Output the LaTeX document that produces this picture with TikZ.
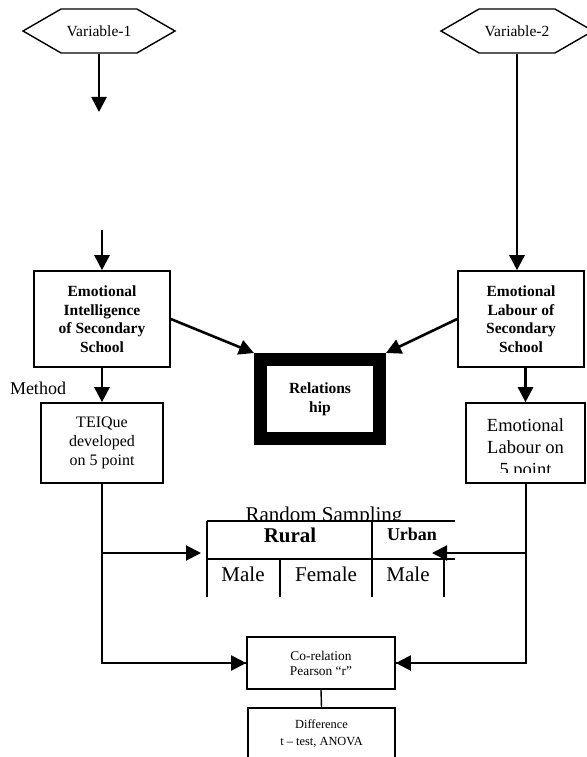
\documentclass[tikz,border=0pt]{standalone}
\usepackage{fontspec}
\setmainfont{Liberation Serif}
\usetikzlibrary{arrows.meta,shapes.symbols}
\tikzset{
	hexbox/.style={draw, line width=1.4pt, signal, signal to=west and east, signal pointer angle=60, minimum width=152pt, minimum height=44pt, inner sep=0pt, font=\fontsize{15.5}{18}\selectfont},
	boldbox/.style={draw, line width=1.6pt, align=center, inner sep=0pt, font=\bfseries\fontsize{15.5}{18.6}\selectfont},
	plainbox/.style={draw, line width=1.6pt, align=center, inner sep=0pt},
	arr/.style={line width=2.6pt, -{Triangle[length=15pt, width=15pt]}},
	conn/.style={line width=2pt},
	tabline/.style={line width=2pt},
	bigtext/.style={font=\fontsize{21}{24}\selectfont, anchor=base},
}

\begin{document}
\begin{tikzpicture}[x=1pt, y=-1pt]
		%%%%% START %%%%%
		\useasboundingbox (0, 0) rectangle (586, 757);
		
		\node[hexbox] (var1) at (99, 31) {Variable-1};
		\node[hexbox] (var2) at (517, 31) {Variable-2};
		\coordinate (v1end) at (99, 112);
		\coordinate (eitop) at (102, 230);
		
		\node[boldbox, minimum width=136pt, minimum height=96pt] (ei) at (102, 319) {Emotional\\Intelligence\\of Secondary\\School};
		\node[boldbox, minimum width=126pt, minimum height=96pt] (lab) at (521, 319) {Emotional\\Labour of\\Secondary\\School};
		\node[boldbox, line width=13pt, minimum width=119pt, minimum height=79pt] (rel) at (320, 399) {Relations\\hip};
		
		\draw[arr] (var1.south) -- (v1end);
		\draw[arr] (eitop) -- (ei.north);
		\draw[arr] (var2.south) -- (var2.south |- lab.north);
		\draw[arr] (ei.east) -- (rel.north west);
		\draw[arr] (lab.west) -- (rel.north east);
		
		\node[anchor=base, font=\fontsize{18}{21}\selectfont] (method) at (38, 394) {Method};
		\node[plainbox, minimum width=122pt, minimum height=80pt, font=\fontsize{16}{18.7}\selectfont] (teique) at (102, 443) {TEIQue\\developed\\on 5 point};
		\node[plainbox, minimum width=119pt, minimum height=80pt] (lab5) at (525.5, 443) {};
		\begin{scope}
			\clip (466, 403) rectangle (586, 472);
			\node[align=center, font=\fontsize{18.5}{21.7}\selectfont] (lab5txt) at (525.5, 449) {Emotional\\Labour on\\5 point};
		\end{scope}
		\draw[arr] (ei.south) -- (teique.north);
		\draw[arr] (lab.south -| lab5.north) -- (lab5.north);
		
		% sampling table
		\begin{scope}
			\clip (150, 480) rectangle (500, 520);
			\node[bigtext] (rsamp) at (324, 521) {Random Sampling};
		\end{scope}
		\draw[tabline] (207, 521) -- (455, 521);
		\draw[tabline] (207, 559) -- (455, 559);
		\draw[tabline] (207, 521) -- (207, 597);
		\draw[tabline] (280, 559) -- (280, 597);
		\draw[tabline] (372, 521) -- (372, 597);
		\draw[tabline] (444, 559) -- (444, 597);
		\node[bigtext, font=\bfseries\fontsize{21}{24}\selectfont] (rural) at (290, 542) {Rural};
		\node[anchor=base, font=\bfseries\fontsize{18}{21}\selectfont] (urban) at (412, 540) {Urban};
		\node[bigtext] (male1) at (243, 581) {Male};
		\node[bigtext] (female) at (326, 581) {Female};
		\node[bigtext] (male2) at (408, 581) {Male};
		\coordinate (tabL) at (201, 553);
		\coordinate (tabR) at (432, 553);
		
		\node[plainbox, minimum width=148pt, minimum height=52pt, font=\fontsize{13.4}{15}\selectfont] (corel) at (321, 663) {Co-relation\\Pearson “r”};
		\node[plainbox, minimum width=147pt, minimum height=52pt, font=\fontsize{12.4}{17}\selectfont] (diff) at (321.5, 734) {Difference\\t – test, ANOVA};
		
		\draw[conn] (teique.south) |- (corel.west);
		\draw[conn] (lab5.south) |- (corel.east);
		\draw[arr, line width=2pt] (teique.south |- corel.west) -- (corel.west);
		\draw[arr, line width=2pt] (lab5.south |- corel.east) -- (corel.east);
		\draw[arr, line width=2pt] (teique.south |- tabL) -- (tabL);
		\draw[arr, line width=2pt] (lab5.south |- tabR) -- (tabR);
		\draw[line width=1.4pt] (corel.south) -- (diff.north);
		%%%%% END %%%%%
\end{tikzpicture}
\end{document}
